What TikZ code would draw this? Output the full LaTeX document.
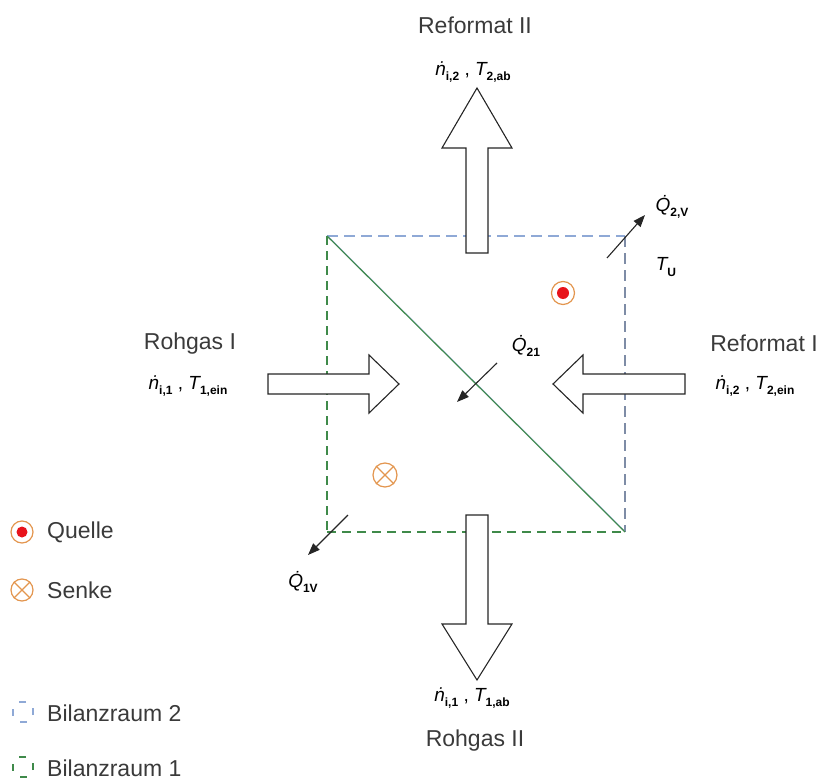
\documentclass[tikz,border=0pt]{standalone}
\usepackage{fontspec}
\setmainfont{Liberation Sans}
\usetikzlibrary{arrows.meta}
\definecolor{bzblue}{HTML}{8FA9D6}
\definecolor{bzgrey}{HTML}{7E8CA6}
\definecolor{bzgreen}{HTML}{3F8A4A}
\definecolor{symorange}{HTML}{E3964F}
\definecolor{symred}{HTML}{E8131B}
\definecolor{lbl}{HTML}{3A3A3A}
\newcommand{\sbx}[1]{\raisebox{-0.3em}{\fontsize{12}{12}\selectfont\bfseries\upshape #1}}
\newcommand{\vn}[1]{{\itshape\.{n}}\sbx{#1}}
\newcommand{\vT}[1]{{\itshape T}\sbx{#1}}
\newcommand{\vQ}[1]{{\itshape\.{Q}}\sbx{#1}}
\tikzset{
  namelbl/.style={font=\fontsize{23}{27}\selectfont, text=lbl, inner sep=0pt},
  mathlbl/.style={font=\fontsize{19}{23}\selectfont, inner sep=0pt},
  blockarrow/.style={draw=black!85, fill=white, line width=1.1pt, line join=miter},
  heatarrow/.style={draw=black!85, line width=1.1pt, -{Triangle[length=12pt,width=9pt]}},
  bzone/.style={draw=bzgreen, dash pattern=on 9pt off 6pt, line width=1.1pt},
  bztwo/.style={draw=bzblue, dash pattern=on 11pt off 6pt, line width=1.1pt},
  bztwor/.style={draw=bzgrey, dash pattern=on 11pt off 6pt, line width=1.1pt},
  ring/.style={draw=symorange, line width=1.2pt, fill=white},
}
\begin{document}
\begin{tikzpicture}[x=1pt,y=-1pt]
\useasboundingbox (0,0) rectangle (823,784);
% square corners
\coordinate (tl) at (327,236);
\coordinate (tr) at (625,236);
\coordinate (br) at (625,532);
\coordinate (bl) at (327,532);
% balance spaces
\draw[bztwo] (tl) -- (tr);
\draw[bztwor] (tr) -- (br);
\draw[bzone] (tl) -- (bl);
\draw[bzone] (bl) -- (br);
\draw[draw=bzblue, line width=0.6pt] ([yshift=0.8pt]tl) -- ([yshift=0.8pt]br);
\draw[draw=bzgreen, line width=1.1pt] (tl) -- (br);
% block arrows
\draw[blockarrow] (466,253) -- (466,148) -- (442,148) -- (477,88) -- (512,148) -- (488,148) -- (488,253) -- cycle;
\draw[blockarrow] (466,515) -- (466,624) -- (442,624) -- (477,680) -- (512,624) -- (488,624) -- (488,515) -- cycle;
\draw[blockarrow] (268,374) -- (369,374) -- (369,355) -- (399,384) -- (369,413) -- (369,394) -- (268,394) -- cycle;
\draw[blockarrow] (685,374) -- (583,374) -- (583,355) -- (553,384) -- (583,413) -- (583,394) -- (685,394) -- cycle;
% heat flows
\coordinate (q2a) at (607,258);
\coordinate (q2b) at (645,215);
\coordinate (q21a) at (497,363);
\coordinate (q21b) at (457,402);
\coordinate (q1a) at (348,515);
\coordinate (q1b) at (308,555);
\draw[heatarrow] (q2a) -- (q2b);
\draw[heatarrow] (q21a) -- (q21b);
\draw[heatarrow] (q1a) -- (q1b);
% source / sink
\node[circle, ring, minimum size=23pt, inner sep=0pt] (src) at (563,293) {};
\fill[symred] (src.center) circle (6pt);
\node[circle, ring, minimum size=24pt, inner sep=0pt] (snk) at (385,475) {};
\draw[symorange, line width=1.2pt] (snk.north east) -- (snk.south west) (snk.north west) -- (snk.south east);
% labels
\node[namelbl] (refII) at (475,25) {Reformat II};
\node[mathlbl] (refIIm) at (473,72) {\vn{i,2} , \vT{2,ab}};
\node[namelbl] (rohI) at (190,344) {Rohgas I};
\node[mathlbl] (rohIm) at (188,386) {\vn{i,1} , \vT{1,ein}};
\node[namelbl] (refI) at (764,343) {Reformat I};
\node[mathlbl] (refIm) at (755,386) {\vn{i,2} , \vT{2,ein}};
\node[mathlbl] (rohIIm) at (472,698) {\vn{i,1} , \vT{1,ab}};
\node[namelbl] (rohII) at (475,741) {Rohgas II};
\node[mathlbl] (q2v) at (672,207) {\vQ{2,V}};
\node[mathlbl] (tu) at (666,267) {\vT{U}};
\node[mathlbl] (q21) at (526,346) {\vQ{21}};
\node[mathlbl] (q1v) at (303,582) {\vQ{1V}};
% legend
\node[circle, ring, minimum size=22pt, inner sep=0pt] (lsrc) at (22,532) {};
\fill[symred] (lsrc.center) circle (5.5pt);
\node[namelbl, anchor=west] (lq) at (47,532) {Quelle};
\node[circle, ring, minimum size=22pt, inner sep=0pt] (lsnk) at (22,590) {};
\draw[symorange, line width=1.2pt] (lsnk.north east) -- (lsnk.south west) (lsnk.north west) -- (lsnk.south east);
\node[namelbl, anchor=west] (ls) at (47,590) {Senke};
\draw[draw=bzblue, line width=1.3pt, dash pattern=on 7pt off 13pt, dash phase=13pt] (13,702) rectangle (33,722);
\node[namelbl, anchor=west] (lb2) at (47,713) {Bilanzraum 2};
\draw[draw=bzgreen, line width=1.3pt, dash pattern=on 7pt off 13pt, dash phase=13pt] (13,757) rectangle (33,777);
\node[namelbl, anchor=west] (lb1) at (47,768) {Bilanzraum 1};
\end{tikzpicture}
\end{document}
